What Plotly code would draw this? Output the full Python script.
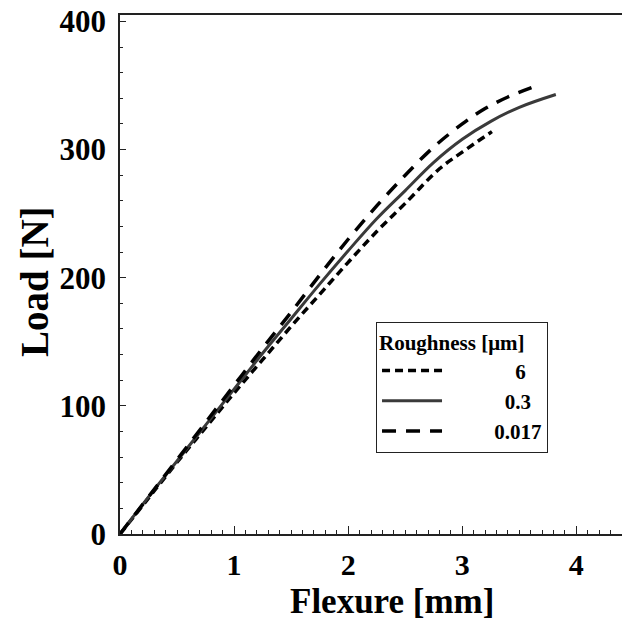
import plotly.graph_objects as go

# Data (Flexure [mm] vs Load [N])
x_6 = [0, 0.25, 0.5, 0.75, 1.0, 1.25, 1.5, 1.75, 2.0, 2.25, 2.5, 2.8, 3.0, 3.26]
y_6 = [0, 28, 56, 83, 110, 136, 162, 187, 212, 236, 258, 285, 298, 314]

x_03 = [0, 0.25, 0.5, 0.75, 1.0, 1.25, 1.5, 1.75, 2.0, 2.25, 2.5, 2.75, 3.0, 3.25, 3.5, 3.82]
y_03 = [0, 29, 57, 85, 113, 141, 168, 195, 221, 246, 268, 290, 308, 322, 333, 343]

x_0017 = [0, 0.25, 0.5, 0.75, 1.0, 1.25, 1.5, 1.75, 2.0, 2.25, 2.5, 2.75, 3.0, 3.2, 3.4, 3.66]
y_0017 = [0, 29, 58, 87, 116, 145, 173, 202, 230, 256, 280, 302, 320, 332, 341, 350]

series_names = ["6", "0.3", "0.017"]
x_ticks = [0, 1, 2, 3, 4]
y_ticks = [0, 100, 200, 300, 400]

FONT = "Liberation Serif"
NB = "\u00a0"

fig = go.Figure()
fig.add_trace(go.Scatter(x=x_6, y=y_6, mode="lines", name=NB * 13 + series_names[0],
                         line=dict(color="black", width=3.5, dash="8px,5px", shape="spline")))
fig.add_trace(go.Scatter(x=x_03, y=y_03, mode="lines", name=NB * 11 + series_names[1],
                         line=dict(color="#3a3a3a", width=3, shape="spline")))
fig.add_trace(go.Scatter(x=x_0017, y=y_0017, mode="lines", name=NB * 9 + series_names[2],
                         line=dict(color="black", width=3.5, dash="14px,10px", shape="spline")))

fig.update_layout(
    width=622, height=624,
    margin=dict(l=120, r=0, t=15, b=90),
    paper_bgcolor="white", plot_bgcolor="white",
    font=dict(family=FONT, color="black"),
    showlegend=True,
    legend=dict(
        x=0.51, y=(534 - 322) / 519, xanchor="left", yanchor="top",
        bgcolor="white", bordercolor="#222", borderwidth=1,
        title=dict(text="<b>Roughness [μm]</b>", font=dict(family=FONT, size=21)),
        font=dict(family=FONT, size=21, weight="bold"),
        itemwidth=60, tracegroupgap=0,
        entrywidth=196, entrywidthmode="pixels",
    ),
    annotations=[
        dict(text="<b>Flexure [mm]</b>", xref="paper", yref="paper",
             x=(392 - 120) / 502, y=(534 - 623) / 519, xanchor="center", yanchor="bottom",
             showarrow=False, font=dict(family=FONT, size=35, color="black")),
        dict(text="<b>Load [N]</b>", xref="paper", yref="paper", textangle=-90,
             x=(34 - 120) / 502, y=(534 - 282) / 519, xanchor="center", yanchor="middle",
             showarrow=False, font=dict(family=FONT, size=39, color="black")),
    ],
)

fig.update_xaxes(
    range=[0, 4.4], tickvals=x_ticks, ticktext=[str(v) for v in x_ticks],
    showline=True, linecolor="#222", linewidth=1.5, mirror=True,
    ticks="inside", ticklen=8, tickwidth=1, tickcolor="#222",
    minor=dict(dtick=0.1, ticks="inside", ticklen=4, tickcolor="#222", tickwidth=1),
    showgrid=False, zeroline=False,
    tickfont=dict(family=FONT, size=30, weight="bold"),
    ticklabelstandoff=3,
)
fig.update_yaxes(
    range=[0, 405], tickvals=y_ticks, ticktext=[str(v) for v in y_ticks],
    showline=True, linecolor="#222", linewidth=1.5, mirror=False,
    ticks="inside", ticklen=6, tickwidth=1, tickcolor="#222",
    minor=dict(dtick=20, ticks="inside", ticklen=3, tickcolor="#222", tickwidth=1),
    showgrid=False, zeroline=False,
    tickfont=dict(family=FONT, size=31, weight="bold"),
    ticklabelstandoff=6,
)

fig.write_html("out.html")
